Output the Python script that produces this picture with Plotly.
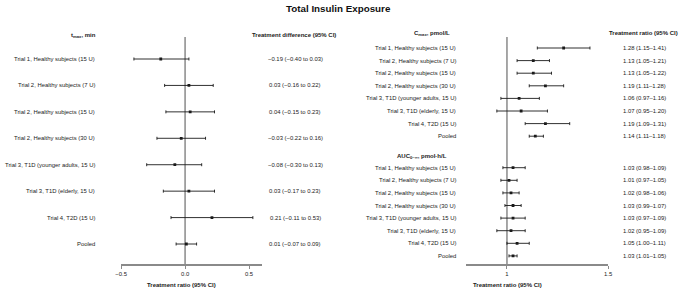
import plotly.graph_objects as go

# ---------------- data ----------------
labels = [
    "Trial 1, Healthy subjects (15 U)",
    "Trial 2, Healthy subjects (7 U)",
    "Trial 2, Healthy subjects (15 U)",
    "Trial 2, Healthy subjects (30 U)",
    "Trial 3, T1D (younger adults, 15 U)",
    "Trial 3, T1D (elderly, 15 U)",
    "Trial 4, T2D (15 U)",
    "Pooled",
]

tmax_est = [-0.19, 0.03, 0.04, -0.03, -0.08, 0.03, 0.21, 0.01]
tmax_lo = [-0.40, -0.16, -0.15, -0.22, -0.30, -0.17, -0.11, -0.07]
tmax_hi = [0.03, 0.22, 0.23, 0.16, 0.13, 0.23, 0.53, 0.09]

cmax_est = [1.28, 1.13, 1.13, 1.19, 1.06, 1.07, 1.19, 1.14]
cmax_lo = [1.15, 1.05, 1.05, 1.11, 0.97, 0.95, 1.09, 1.11]
cmax_hi = [1.41, 1.21, 1.22, 1.28, 1.16, 1.20, 1.31, 1.18]

auc_est = [1.03, 1.01, 1.02, 1.03, 1.03, 1.02, 1.05, 1.03]
auc_lo = [0.98, 0.97, 0.98, 0.99, 0.97, 0.95, 1.00, 1.01]
auc_hi = [1.09, 1.05, 1.06, 1.07, 1.09, 1.09, 1.11, 1.05]

left_ticks = [-0.5, 0.0, 0.5]
left_ticktext = ["\u22120.5", "0.0", "0.5"]
right_ticks = [1.0, 1.5]
right_ticktext = ["1", "1.5"]

# ---------------- helpers ----------------
W, H = 685, 290
FONT = "Liberation Sans, Arial, sans-serif"
TXT = "#222222"
LINE = "#1a1a1a"
REF = "#8a8a8a"


def fmt(v):
    s = f"{v:.2f}"
    return s.replace("-", "\u2212")


def diff_text(e, l, h):
    return f"{fmt(e)} ({fmt(l)} to {fmt(h)})"


def ratio_text(e, l, h):
    return f"{e:.2f} ({l:.2f}\u2013{h:.2f})"


left_rows = list(range(len(labels)))
cmax_rows = list(range(len(labels)))
auc_rows = [r + len(labels) + 1.5 for r in range(len(labels))]

fig = go.Figure()


def add_forest(est, lo, hi, rows, xa, ya):
    fig.add_trace(go.Scatter(
        x=est, y=rows, mode="markers",
        marker=dict(symbol="square", size=2.8, color=LINE),
        error_x=dict(type="data", symmetric=False,
                     array=[h - e for e, h in zip(est, hi)],
                     arrayminus=[e - l for e, l in zip(est, lo)],
                     color=LINE, thickness=0.9, width=1.5),
        xaxis=xa, yaxis=ya, showlegend=False, hoverinfo="skip",
    ))


add_forest(tmax_est, tmax_lo, tmax_hi, left_rows, "x", "y")
add_forest(cmax_est, cmax_lo, cmax_hi, cmax_rows, "x2", "y2")
add_forest(auc_est, auc_lo, auc_hi, auc_rows, "x2", "y2")

# vertical reference lines
fig.add_shape(type="line", xref="x2", yref="y2 domain", x0=1, x1=1, y0=0, y1=1,
              line=dict(color=REF, width=1.5), layer="below")
fig.add_shape(type="line", xref="x", yref="y domain", x0=0, x1=0, y0=0, y1=1,
              line=dict(color=REF, width=1.5), layer="below")

ann = []
fs = 5.9
for i, lab in enumerate(labels):
    ann.append(dict(x=92 / W, xref="paper", y=left_rows[i], yref="y", text=lab,
                    xanchor="right", showarrow=False, font=dict(size=fs, color=TXT)))
    ann.append(dict(x=294 / W, xref="paper", y=left_rows[i], yref="y",
                    text=diff_text(tmax_est[i], tmax_lo[i], tmax_hi[i]),
                    xanchor="center", showarrow=False, font=dict(size=fs, color=TXT)))
    ann.append(dict(x=459 / W, xref="paper", y=cmax_rows[i], yref="y2", text=lab,
                    xanchor="right", showarrow=False, font=dict(size=fs, color=TXT)))
    ann.append(dict(x=649 / W, xref="paper", y=cmax_rows[i], yref="y2",
                    text=ratio_text(cmax_est[i], cmax_lo[i], cmax_hi[i]),
                    xanchor="center", showarrow=False, font=dict(size=fs, color=TXT)))
    ann.append(dict(x=459 / W, xref="paper", y=auc_rows[i], yref="y2", text=lab,
                    xanchor="right", showarrow=False, font=dict(size=fs, color=TXT)))
    ann.append(dict(x=649 / W, xref="paper", y=auc_rows[i], yref="y2",
                    text=ratio_text(auc_est[i], auc_lo[i], auc_hi[i]),
                    xanchor="center", showarrow=False, font=dict(size=fs, color=TXT)))

hfs = 6.0
# headers
ann += [
    dict(x=93 / W, xref="paper", y=1 - 35 / H, yref="paper",
         text="<b>t<sub>max</sub>, min</b>", xanchor="right", yanchor="middle",
         showarrow=False, font=dict(size=hfs, color=TXT)),
    dict(x=293 / W, xref="paper", y=1 - 35 / H, yref="paper",
         text="<b>Treatment difference (95% CI)</b>", xanchor="center", yanchor="middle",
         showarrow=False, font=dict(size=hfs, color=TXT)),
    dict(x=453 / W, xref="paper", y=1 - 33 / H, yref="paper",
         text="<b>C<sub>max</sub>, pmol/L</b>", xanchor="right", yanchor="middle",
         showarrow=False, font=dict(size=hfs, color=TXT)),
    dict(x=648 / W, xref="paper", y=1 - 33 / H, yref="paper",
         text="<b>Treatment ratio (95% CI)</b>", xanchor="center", yanchor="middle",
         showarrow=False, font=dict(size=hfs, color=TXT)),
    dict(x=450 / W, xref="paper", y=len(labels) + 0.6, yref="y2",
         text="<b>AUC<sub>0\u2013\u221e</sub>, pmol\u00b7h/L</b>", xanchor="right", yanchor="middle",
         showarrow=False, font=dict(size=hfs, color=TXT)),
    dict(x=178 / W, xref="paper", y=1 - 285 / H, yref="paper",
         text="<b>Treatment ratio (95% CI)</b>", xanchor="center", yanchor="middle",
         showarrow=False, font=dict(size=hfs, color=TXT)),
    dict(x=510 / W, xref="paper", y=1 - 285 / H, yref="paper",
         text="<b>Treatment ratio (95% CI)</b>", xanchor="center", yanchor="middle",
         showarrow=False, font=dict(size=hfs, color=TXT)),
    dict(x=338 / W, xref="paper", y=1 - 9 / H, yref="paper",
         text="<b>Total Insulin Exposure</b>", xanchor="center", yanchor="middle",
         showarrow=False, font=dict(size=9.8, color="#111")),
]

# pixel geometry
axis_px, top_px = 264, 37
dom = [(H - axis_px) / H, (H - top_px) / H]
l0, lstep = 59, 26.43
r0, rstep = 48, 12.6

axis_common = dict(showgrid=False, zeroline=False, showline=True, linecolor=REF,
                   linewidth=1.5, ticks="outside", ticklen=3, tickwidth=1, tickcolor=REF,
                   tickfont=dict(size=5.9, color=TXT), fixedrange=True)

fig.update_layout(
    width=W, height=H, margin=dict(l=0, r=0, t=0, b=0),
    paper_bgcolor="white", plot_bgcolor="rgba(0,0,0,0)",
    font=dict(family=FONT, color=TXT),
    annotations=ann,
    xaxis=dict(domain=[117 / W, 260 / W], range=[-0.5, 0.6], anchor="y",
               tickvals=left_ticks, ticktext=left_ticktext, **axis_common),
    yaxis=dict(domain=dom, range=[(axis_px - l0) / lstep, (top_px - l0) / lstep],
               visible=False, fixedrange=True),
    xaxis2=dict(domain=[468 / W, 612 / W], range=[0.8, 1.5], anchor="y2",
                tickvals=right_ticks, ticktext=right_ticktext, **axis_common),
    yaxis2=dict(domain=dom, range=[(axis_px - r0) / rstep, (top_px - r0) / rstep],
                visible=False, fixedrange=True, anchor="x2"),
)

fig.write_html("out.html", config={"displayModeBar": False},
               post_script="document.body.style.margin='0';document.body.style.overflow='hidden';")
